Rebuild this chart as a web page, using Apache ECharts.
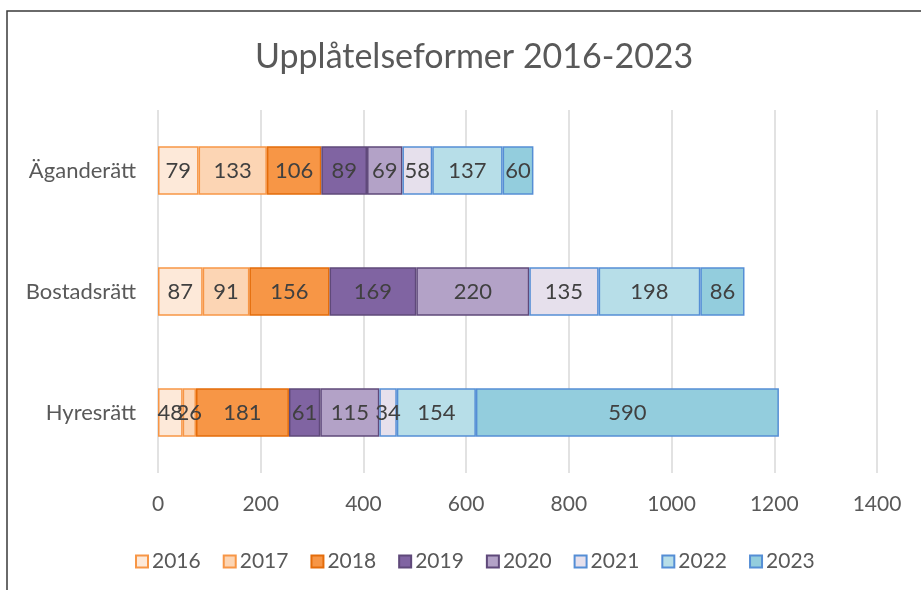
<!DOCTYPE html>
<html>
<head>
<meta charset="utf-8">
<title>Upplåtelseformer 2016-2023</title>
<script src="https://cdn.jsdelivr.net/npm/echarts@6/dist/echarts.min.js"></script>
<style>
  html, body { margin: 0; padding: 0; background: #fff; }
  #main { width: 921px; height: 590px; }
</style>
</head>
<body>
<div id="main"></div>
<script>
// kategorier (uppifrån och ned)
var categories = ['Äganderätt', 'Bostadsrätt', 'Hyresrätt']
var years = ['2016', '2017', '2018', '2019', '2020', '2021', '2022', '2023']
var xTicks = [0, 200, 400, 600, 800, 1000, 1200, 1400]

// värden per år: [Äganderätt, Bostadsrätt, Hyresrätt]
var v2016 = [79, 87, 48]
var v2017 = [133, 91, 26]
var v2018 = [106, 156, 181]
var v2019 = [89, 169, 61]
var v2020 = [69, 220, 115]
var v2021 = [58, 135, 34]
var v2022 = [137, 198, 154]
var v2023 = [60, 86, 590]

var values = [v2016, v2017, v2018, v2019, v2020, v2021, v2022, v2023]

var fills = ['#FDE9D9', '#FCD5B4', '#F79646', '#8064A2', '#B3A2C7', '#E6E0EC', '#B7DEE8', '#93CDDD']
var borders = ['#F79646', '#F79646', '#E46C0A', '#5F497A', '#5F497A', '#558ED5', '#558ED5', '#558ED5']

var font = 'Lato, "Open Sans", sans-serif'

var myChart = echarts.init(document.getElementById('main'))

var series = years.map(function (y, i) {
  return {
    name: y,
    type: 'bar',
    stack: 'total',
    barWidth: '40%',
    data: values[i],
    itemStyle: { color: fills[i], borderColor: borders[i], borderWidth: 1.5 },
    label: {
      show: true,
      position: 'inside',
      color: '#404040',
      fontSize: 22,
      fontFamily: font
    },
    emphasis: { disabled: true }
  }
})

myChart.setOption({
  animation: false,
  backgroundColor: '#fff',
  graphic: [{
    type: 'rect',
    shape: { x: 7, y: 11, width: 1000, height: 1000 },
    style: { fill: 'none', stroke: '#3a3a3a', lineWidth: 1.5 },
    silent: true,
    z: -1
  }],
  title: {
    text: 'Upplåtelseformer 2016-2023',
    left: 250,
    top: 35,
    textStyle: { color: '#595959', fontSize: 34, fontWeight: 'normal', fontFamily: font }
  },
  legend: {
    data: years,
    left: 130,
    top: 546,
    itemWidth: 12,
    itemHeight: 12,
    itemGap: 22,
    icon: 'rect',
    textStyle: { color: '#595959', fontSize: 21, fontFamily: font, padding: [0, 0, 0, -1] }
  },
  grid: { left: 158, right: 44, top: 110, bottom: 117, containLabel: false },
  xAxis: {
    type: 'value',
    min: xTicks[0],
    max: xTicks[xTicks.length - 1],
    interval: xTicks[1] - xTicks[0],
    axisLine: { show: false },
    axisTick: { show: false },
    splitLine: { lineStyle: { color: '#D9D9D9', width: 1.5 } },
    axisLabel: {
      color: '#595959', fontSize: 21, fontFamily: font, margin: 21,
      formatter: function (v) { return String(v) }
    }
  },
  yAxis: {
    type: 'category',
    inverse: true,
    data: categories,
    axisLine: { show: false },
    axisTick: { show: false },
    axisLabel: { color: '#595959', fontSize: 22, fontFamily: font, margin: 22 }
  },
  series: series
})
</script>
</body>
</html>
